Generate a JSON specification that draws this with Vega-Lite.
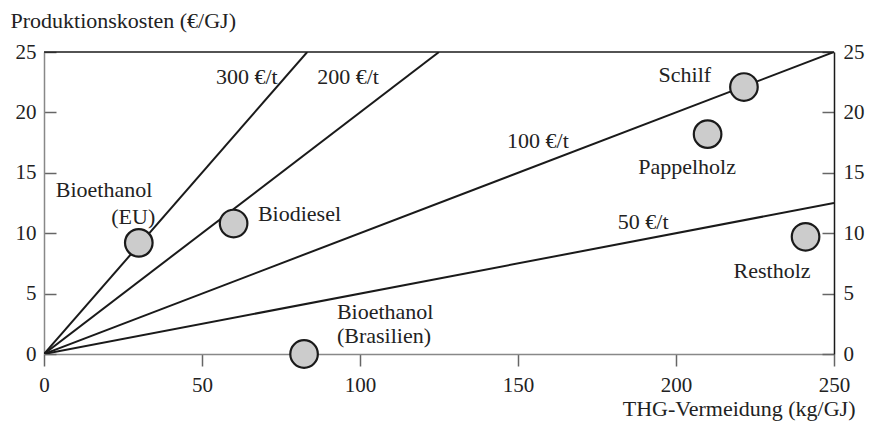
{
  "$schema": "https://vega.github.io/schema/vega-lite/v6.json",
  "width": 790,
  "height": 302,
  "autosize": "none",
  "padding": {"left": 44, "top": 52, "right": 41, "bottom": 75},
  "background": "white",
  "config": {
    "view": {"stroke": null},
    "font": "'Liberation Serif', 'Times New Roman', serif",
    "text": {"font": "'Liberation Serif', 'Times New Roman', serif"},
    "axis": {"labelFont": "'Liberation Serif', 'Times New Roman', serif", "titleFont": "'Liberation Serif', 'Times New Roman', serif", "labelFontSize": 21, "titleFontSize": 22, "labelColor": "#222", "titleColor": "#222", "titleFontWeight": "normal", "grid": false}
  },
  "datasets": {
    "lines": [
      {"preis": "300 €/t", "x": 0, "y": 0}, {"preis": "300 €/t", "x": 83.3, "y": 25},
      {"preis": "200 €/t", "x": 0, "y": 0}, {"preis": "200 €/t", "x": 125, "y": 25},
      {"preis": "100 €/t", "x": 0, "y": 0}, {"preis": "100 €/t", "x": 250, "y": 25},
      {"preis": "50 €/t", "x": 0, "y": 0}, {"preis": "50 €/t", "x": 250, "y": 12.5}
    ],
    "points": [
      {"name": "Bioethanol (EU)", "x": 30, "y": 9.2},
      {"name": "Biodiesel", "x": 60, "y": 10.8},
      {"name": "Bioethanol (Brasilien)", "x": 82.3, "y": 0},
      {"name": "Pappelholz", "x": 210, "y": 18.2},
      {"name": "Schilf", "x": 221.5, "y": 22.1},
      {"name": "Restholz", "x": 241, "y": 9.7}
    ],
    "labels_center": [
      {"text": "300 €/t", "x": 64.2, "y": 22.9},
      {"text": "200 €/t", "x": 96.2, "y": 22.9},
      {"text": "100 €/t", "x": 156.3, "y": 17.6},
      {"text": "50 €/t", "x": 189.6, "y": 10.9},
      {"text": "Schilf", "x": 202.8, "y": 23.1},
      {"text": "Pappelholz", "x": 203.5, "y": 15.5},
      {"text": "Restholz", "x": 230.4, "y": 6.9},
      {"text": "Bioethanol", "x": 19, "y": 13.6}
    ],
    "labels_left": [
      {"text": "Biodiesel", "x": 67.7, "y": 11.6},
      {"text": "Bioethanol", "x": 92.7, "y": 3.5},
      {"text": "(Brasilien)", "x": 92.7, "y": 1.5}
    ],
    "labels_right": [
      {"text": "(EU)", "x": 35.2, "y": 11.3}
    ]
  },
  "layer": [
    {
      "data": {"name": "lines"},
      "mark": {"type": "line", "color": "#1a1a1a", "strokeWidth": 2, "clip": true},
      "encoding": {
        "x": {"field": "x", "type": "quantitative", "scale": {"domain": [0, 250], "nice": false, "zero": true},
          "axis": {"values": [0, 50, 100, 150, 200, 250], "domainColor": "#888", "domainWidth": 1.5, "tickColor": "#666", "tickWidth": 1.5, "tickSize": 12, "labelPadding": 8, "title": "THG-Vermeidung (kg/GJ)", "titleAngle": 0, "titleAlign": "right", "titleBaseline": "middle", "titleX": 811, "titleY": 54, "labelFlush": false}},
        "y": {"field": "y", "type": "quantitative", "scale": {"domain": [0, 25], "nice": false},
          "axis": {"values": [0, 5, 10, 15, 20, 25], "domainColor": "#888", "domainWidth": 1.5, "tickColor": "#666", "tickWidth": 1.5, "tickSize": -12, "labelPadding": 20, "title": "Produktionskosten (€/GJ)", "titleAngle": 0, "titleAlign": "left", "titleBaseline": "middle", "titleX": -34, "titleY": -32, "labelFlush": false}},
        "detail": {"field": "preis"}
      }
    },
    {
      "data": {"name": "points"},
      "mark": {"type": "point", "filled": false, "shape": "circle", "size": 760, "fill": "#cccccc", "fillOpacity": 1, "stroke": "#1a1a1a", "strokeWidth": 2.2, "opacity": 1},
      "encoding": {
        "x": {"field": "x", "type": "quantitative"},
        "y": {"field": "y", "type": "quantitative", "axis": null}
      }
    },
    {
      "data": {"name": "labels_center"},
      "mark": {"type": "text", "fontSize": 22, "color": "#222", "baseline": "middle", "align": "center"},
      "encoding": {
        "x": {"field": "x", "type": "quantitative"},
        "y": {"field": "y", "type": "quantitative", "axis": null},
        "text": {"field": "text"}
      }
    },
    {
      "data": {"name": "labels_left"},
      "mark": {"type": "text", "fontSize": 22, "color": "#222", "baseline": "middle", "align": "left"},
      "encoding": {
        "x": {"field": "x", "type": "quantitative"},
        "y": {"field": "y", "type": "quantitative", "axis": null},
        "text": {"field": "text"}
      }
    },
    {
      "data": {"name": "labels_right"},
      "mark": {"type": "text", "fontSize": 22, "color": "#222", "baseline": "middle", "align": "right"},
      "encoding": {
        "x": {"field": "x", "type": "quantitative"},
        "y": {"field": "y", "type": "quantitative", "axis": null},
        "text": {"field": "text"}
      }
    },
    {
      "data": {"values": [{"x": 0}, {"x": 250}]},
      "mark": {"type": "rule", "color": "#1a1a1a", "strokeWidth": 1.5},
      "encoding": {
        "x": {"field": "x", "type": "quantitative", "aggregate": "min"},
        "x2": {"field": "x", "aggregate": "max"},
        "y": {"datum": 25, "type": "quantitative", "axis": null}
      }
    },
    {
      "data": {"values": [{"y": 0}]},
      "mark": {"type": "rule", "color": "transparent"},
      "encoding": {
        "y": {"field": "y", "type": "quantitative", "axis": {"orient": "right", "values": [0, 5, 10, 15, 20, 25], "domainColor": "#1a1a1a", "domainWidth": 1.5, "tickColor": "#666", "tickWidth": 1.5, "tickSize": -12, "labelPadding": 21, "labelAlign": "left", "title": null, "labelFlush": false}}
      }
    }
  ],
  "resolve": {"axis": {"y": "independent"}, "scale": {"y": "shared"}}
}
